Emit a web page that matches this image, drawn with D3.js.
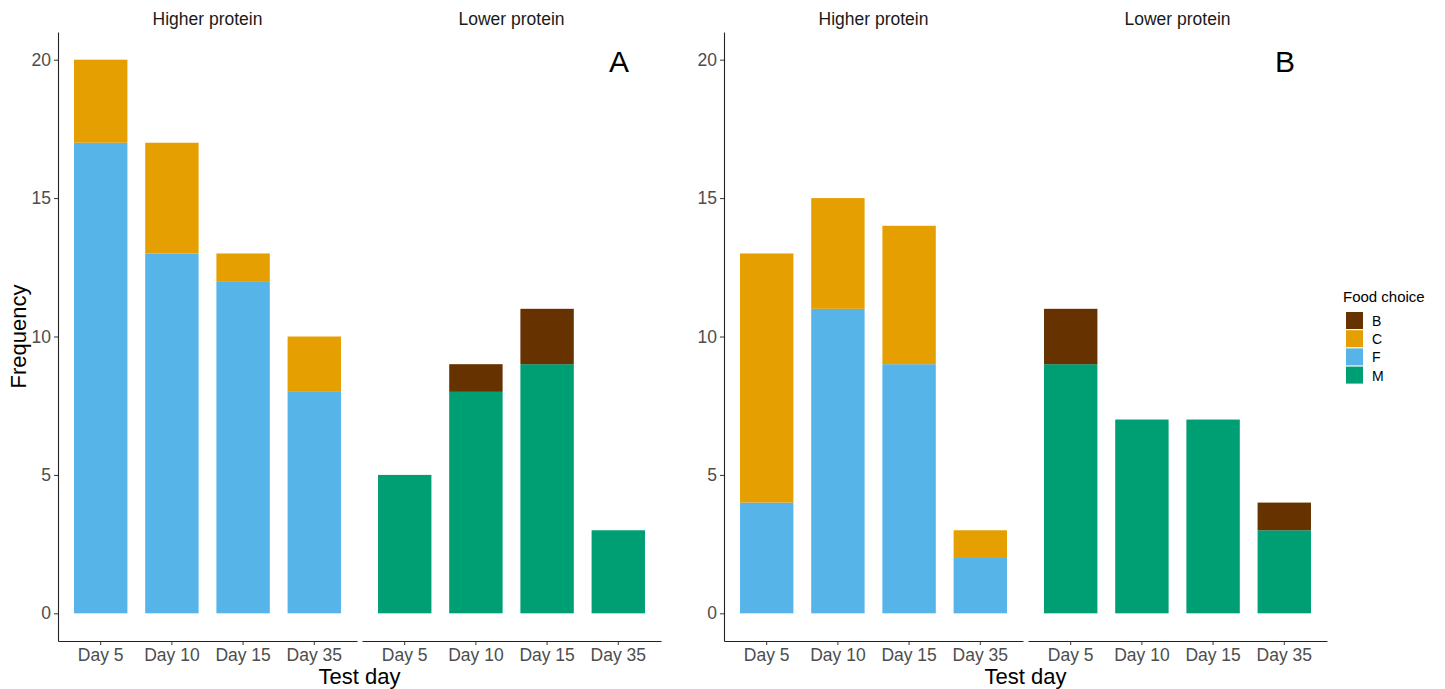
<!DOCTYPE html>
<html>
<head>
<meta charset="utf-8">
<script src="https://cdn.jsdelivr.net/npm/d3@7"></script>
<style>
  body { margin: 0; background: #fff; }
  text { font-family: "Liberation Sans", Arial, sans-serif; }
</style>
</head>
<body>
<div id="chart"></div>
<script>
// categories
const days = ["Day 5", "Day 10", "Day 15", "Day 35"];
const facets = ["Higher protein", "Lower protein"];
const choices = ["B", "C", "F", "M"];
const yTicks = [0, 5, 10, 15, 20];

// counts: 4 higher-protein days then 4 lower-protein days
const aB = [0, 0, 0, 0, 0, 1, 2, 0];
const aC = [3, 4, 1, 2, 0, 0, 0, 0];
const aF = [17, 13, 12, 8, 0, 0, 0, 0];
const aM = [0, 0, 0, 0, 5, 8, 9, 3];

const bB = [0, 0, 0, 0, 2, 0, 0, 1];
const bC = [9, 4, 5, 1, 0, 0, 0, 0];
const bF = [4, 11, 9, 2, 0, 0, 0, 0];
const bM = [0, 0, 0, 0, 9, 7, 7, 3];

const colors = { B: "#663300", C: "#E69F00", F: "#56B4E9", M: "#009E73" };

function buildRows(B, C, F, M) {
    return B.map((_, i) => ({
        facet: facets[Math.floor(i / 4)],
        day: days[i % 4],
        B: B[i], C: C[i], F: F[i], M: M[i]
    }));
}

const panels = [
    { label: "A", rows: buildRows(aB, aC, aF, aM), axisX: 58 },
    { label: "B", rows: buildRows(bB, bC, bF, bM), axisX: 724 }
];

const W = 1445, H = 689;
const plotTop = 32, plotBottom = 641;
const facetW = 299, facetGap = 5;

const svg = d3.select("#chart").append("svg")
    .attr("width", W).attr("height", H);

const y = d3.scaleLinear().domain([-1, 21]).range([plotBottom, plotTop]);

// stack bottom to top: M, F, C, B
const stack = d3.stack().keys(["M", "F", "C", "B"]);

panels.forEach(p => {
    const g = svg.append("g");

    // y axis
    const yAxis = g.append("g")
        .attr("transform", `translate(${p.axisX},0)`)
        .call(d3.axisLeft(y).tickValues(yTicks).tickSize(4).tickSizeOuter(0).tickPadding(3));
    yAxis.select(".domain").attr("stroke", "#222").attr("stroke-width", 1.1);
    yAxis.selectAll(".tick line").attr("stroke", "#333");
    yAxis.selectAll("text").attr("fill", "#4D4D4D").style("font-size", "17.5px");

    facets.forEach((f, fi) => {
        const x0 = p.axisX + fi * (facetW + facetGap);
        const x = d3.scaleBand().domain(days)
            .range([x0, x0 + facetW])
            .paddingInner(0.25).paddingOuter(0.225);

        const rows = p.rows.filter(r => r.facet === f);
        const series = stack(rows);

        series.forEach(s => {
            g.append("g").attr("fill", colors[s.key])
                .selectAll("rect")
                .data(s.filter(d => d[1] > d[0]))
                .join("rect")
                .attr("x", d => x(d.data.day))
                .attr("width", x.bandwidth())
                .attr("y", d => y(d[1]))
                .attr("height", d => y(d[0]) - y(d[1]));
        });

        // x axis
        const xAxis = g.append("g")
            .attr("transform", `translate(0,${plotBottom})`)
            .call(d3.axisBottom(x).tickSize(4).tickPadding(4).tickSizeOuter(0));
        xAxis.select(".domain").attr("stroke", "#222").attr("stroke-width", 1.1);
        xAxis.selectAll(".tick line").attr("stroke", "#333");
        xAxis.selectAll("text").attr("fill", "#4D4D4D").style("font-size", "17.5px");

        // strip label
        g.append("text")
            .attr("x", x0 + facetW / 2).attr("y", 25)
            .attr("text-anchor", "middle")
            .attr("fill", "#1a1a1a").style("font-size", "17.5px")
            .text(f);
    });

    // panel letter
    g.append("text")
        .attr("x", p.axisX + 2 * facetW + facetGap - 42).attr("y", 72)
        .attr("text-anchor", "middle")
        .attr("fill", "#000").style("font-size", "30px")
        .text(p.label);

    // x title
    g.append("text")
        .attr("x", p.axisX + facetW + facetGap / 2).attr("y", 684)
        .attr("text-anchor", "middle")
        .attr("fill", "#000").style("font-size", "22px")
        .text("Test day");
});

// y title
svg.append("text")
    .attr("transform", `translate(26,${(plotTop + plotBottom) / 2}) rotate(-90)`)
    .attr("text-anchor", "middle")
    .attr("fill", "#000").style("font-size", "22px")
    .text("Frequency");

// legend
const legend = svg.append("g").attr("transform", "translate(1346,0)");
legend.append("text")
    .attr("x", -3).attr("y", 302)
    .attr("fill", "#000").style("font-size", "15px")
    .text("Food choice");
legend.selectAll("rect")
    .data(choices)
    .join("rect")
    .attr("x", 0).attr("y", (d, i) => 312 + i * 18.2)
    .attr("width", 17).attr("height", 17)
    .attr("fill", d => colors[d]);
legend.selectAll("text.lab")
    .data(choices)
    .join("text")
    .attr("class", "lab")
    .attr("x", 26).attr("y", (d, i) => 312 + i * 18.2 + 14)
    .attr("fill", "#000").style("font-size", "14px")
    .text(d => d);
</script>
</body>
</html>
